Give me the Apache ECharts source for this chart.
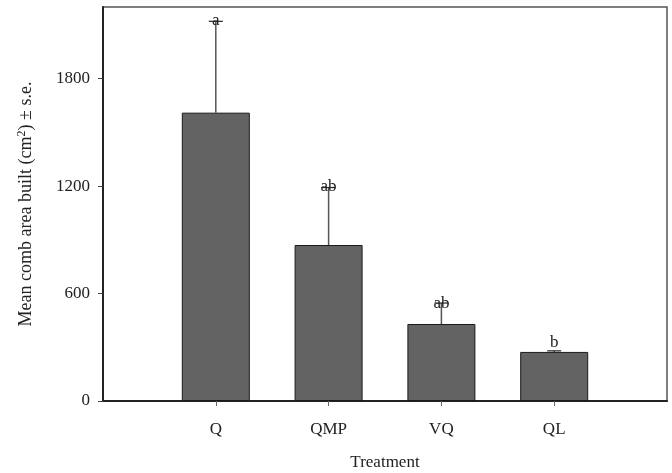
<!DOCTYPE html>
<html>
<head>
<meta charset="utf-8">
<script src="https://cdn.jsdelivr.net/npm/echarts@6/dist/echarts.min.js"></script>
<style>html,body{margin:0;padding:0;background:#fff}#c{width:672px;height:473px}</style>
</head>
<body>
<div id="c"></div>
<script>
const categories = ['Q', 'QMP', 'VQ', 'QL'];
const means = [1610, 871, 430, 274];
const errTops = [2120, 1192, 547, 280];
const letters = ['a', 'ab', 'ab', 'b'];
const letterValues = [2122, 1195, 547, 324];
const yTicks = [0, 600, 1200, 1800];

const axisCats = [''].concat(categories, ['']);
const barData = ['-'].concat(means, ['-']);
const errData = categories.map((c, i) => [i + 1, means[i], errTops[i]]);
const letterData = categories.map((c, i) => [i + 1, letterValues[i], letters[i]]);

const font = 'Liberation Serif';
const chart = echarts.init(document.getElementById('c'), null, {renderer: 'canvas'});
chart.setOption({
  animation: false,
  backgroundColor: '#fff',
  grid: {left: 103, right: 5, top: 7, bottom: 72, show: true, borderColor: '#555', borderWidth: 1.5,
    containLabel: false, outerBoundsMode: 'none'},
  xAxis: {
    type: 'category',
    data: axisCats,
    boundaryGap: false,
    axisLine: {lineStyle: {color: '#222', width: 2}},
    axisTick: {show: true, length: 5, lineStyle: {color: '#666', width: 1}, interval: (i, v) => v !== ''},
    axisLabel: {fontFamily: font, fontSize: 17, color: '#222', margin: 20, interval: 0},
    name: 'Treatment',
    nameLocation: 'middle',
    nameGap: 53,
    nameTextStyle: {fontFamily: font, fontSize: 17, color: '#222'},
    splitLine: {show: false}
  },
  yAxis: {
    type: 'value',
    min: 0,
    max: 2200,
    interval: 600,
    axisLine: {show: true, lineStyle: {color: '#222', width: 2}},
    axisTick: {show: true, length: 5, lineStyle: {color: '#444', width: 1}, customValues: yTicks},
    axisLabel: {fontFamily: font, fontSize: 17, color: '#222', margin: 13, customValues: yTicks,
      formatter: v => String(v)},
    splitLine: {show: false},
    name: 'Mean comb area built (cm{sup|2}) ± s.e.',
    nameLocation: 'middle',
    nameGap: 66,
    nameTextStyle: {fontFamily: font, fontSize: 18, color: '#222',
      rich: {sup: {fontFamily: font, fontSize: 12, color: '#222', verticalAlign: 'bottom', padding: [0, 0, 9, 0]}}}
  },
  series: [
    {
      type: 'bar',
      data: barData,
      barWidth: 68,
      itemStyle: {color: '#636363', borderColor: '#1a1a1a', borderWidth: 1},
      z: 2
    },
    {
      type: 'custom',
      data: errData,
      z: 3,
      renderItem: function (params, api) {
        const x = api.value(0);
        const p0 = api.coord([x, api.value(1)]);
        const p1 = api.coord([x, api.value(2)]);
        const half = 7;
        return {
          type: 'group',
          children: [
            {type: 'line', shape: {x1: p0[0], y1: p0[1], x2: p1[0], y2: p1[1]}, style: {stroke: '#555', lineWidth: 1.5}},
            {type: 'line', shape: {x1: p1[0] - half, y1: p1[1], x2: p1[0] + half, y2: p1[1]}, style: {stroke: '#222', lineWidth: 1.2}}
          ]
        };
      }
    },
    {
      type: 'custom',
      data: letterData,
      z: 4,
      renderItem: function (params, api) {
        const p = api.coord([api.value(0), api.value(1)]);
        return {
          type: 'text',
          x: p[0], y: p[1],
          style: {text: letters[params.dataIndex], fontFamily: font, fontSize: 17, fill: '#222', align: 'center', verticalAlign: 'middle'}
        };
      }
    }
  ]
});
</script>
</body>
</html>
